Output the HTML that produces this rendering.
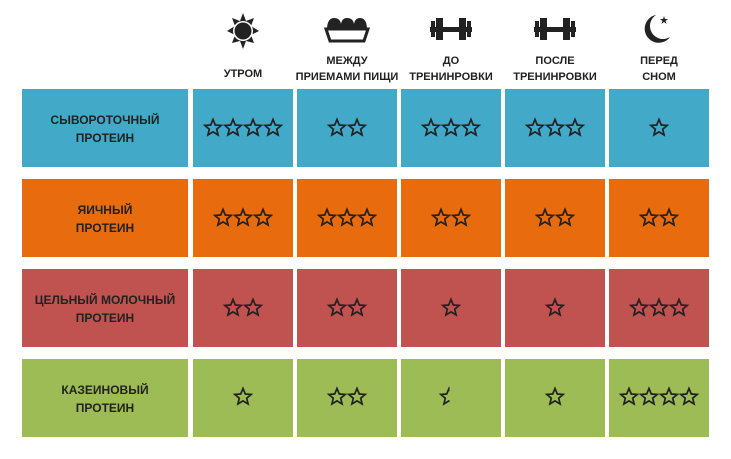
<!DOCTYPE html>
<html><head><meta charset="utf-8"><style>
html,body{margin:0;padding:0;background:#fff;}
svg{display:block}
text{font-family:"Liberation Sans",sans-serif;font-weight:bold;fill:#222;text-anchor:middle;}
</style></head><body>
<svg width="731" height="459" viewBox="0 0 731 459" xmlns="http://www.w3.org/2000/svg">
<defs>
<symbol id="s" viewBox="-10 -10 20 20" overflow="visible">
<polygon points="0,-8.5 2.3,-3 8.2,-2.6 3.7,1.2 5.1,7 0,3.9 -5.1,7 -3.7,1.2 -8.2,-2.6 -2.3,-3" fill="none" stroke="#222" stroke-width="1.7" stroke-linejoin="miter"/>
</symbol>
<clipPath id="half" clipPathUnits="userSpaceOnUse"><rect x="430" y="380" width="19.5" height="40"/></clipPath>
</defs>
<g>
<rect x="22" y="89" width="166" height="78" fill="#42a9c9"/>
<rect x="193" y="89" width="100" height="78" fill="#42a9c9"/>
<rect x="297" y="89" width="100" height="78" fill="#42a9c9"/>
<rect x="401" y="89" width="100" height="78" fill="#42a9c9"/>
<rect x="505" y="89" width="100" height="78" fill="#42a9c9"/>
<rect x="609" y="89" width="100" height="78" fill="#42a9c9"/>

<rect x="22" y="179" width="166" height="78" fill="#e86b0d"/>
<rect x="193" y="179" width="100" height="78" fill="#e86b0d"/>
<rect x="297" y="179" width="100" height="78" fill="#e86b0d"/>
<rect x="401" y="179" width="100" height="78" fill="#e86b0d"/>
<rect x="505" y="179" width="100" height="78" fill="#e86b0d"/>
<rect x="609" y="179" width="100" height="78" fill="#e86b0d"/>

<rect x="22" y="269" width="166" height="78" fill="#c0534f"/>
<rect x="193" y="269" width="100" height="78" fill="#c0534f"/>
<rect x="297" y="269" width="100" height="78" fill="#c0534f"/>
<rect x="401" y="269" width="100" height="78" fill="#c0534f"/>
<rect x="505" y="269" width="100" height="78" fill="#c0534f"/>
<rect x="609" y="269" width="100" height="78" fill="#c0534f"/>

<rect x="22" y="359" width="166" height="78" fill="#9dbc55"/>
<rect x="193" y="359" width="100" height="78" fill="#9dbc55"/>
<rect x="297" y="359" width="100" height="78" fill="#9dbc55"/>
<rect x="401" y="359" width="100" height="78" fill="#9dbc55"/>
<rect x="505" y="359" width="100" height="78" fill="#9dbc55"/>
<rect x="609" y="359" width="100" height="78" fill="#9dbc55"/>
</g>
<g font-size="12">
<text x="105" y="124">СЫВОРОТОЧНЫЙ</text><text x="105" y="142">ПРОТЕИН</text>
<text x="105" y="214">ЯИЧНЫЙ</text><text x="105" y="232">ПРОТЕИН</text>
<text x="105" y="304">ЦЕЛЬНЫЙ МОЛОЧНЫЙ</text><text x="105" y="322">ПРОТЕИН</text>
<text x="105" y="394">КАЗЕИНОВЫЙ</text><text x="105" y="412">ПРОТЕИН</text>
</g>
<g font-size="11">
<text x="243" y="77">УТРОМ</text>
<text x="347" y="64">МЕЖДУ</text><text x="347" y="80">ПРИЕМАМИ ПИЩИ</text>
<text x="451" y="64">ДО</text><text x="451" y="80">ТРЕНИНРОВКИ</text>
<text x="555" y="64">ПОСЛЕ</text><text x="555" y="80">ТРЕНИНРОВКИ</text>
<text x="659" y="64">ПЕРЕД</text><text x="659" y="80">СНОМ</text>
</g>
<g fill="#222">
<polygon points="243,13 246,21 254,18 251,26 259,31 251,35 254,43 246,41 243,49 240,41 232,43 235,35 227,31 235,26 232,18 240,21"/>
<circle cx="243" cy="31" r="10" fill="#fff"/><circle cx="243" cy="31" r="8.5"/>
<path d="M327,30 q0,-12 7,-12 q6,0 7,6 q1,-6 6,-6 q6,0 7,6 q1,-6 6,-6 q7,0 7,12 z"/>
<path d="M326,29 h42 l-4,12 h-34 z" fill="none" stroke="#222" stroke-width="3"/>
<rect x="430" y="27" width="42" height="5"/><rect x="431" y="21" width="4" height="16"/><rect x="436" y="18" width="7" height="22"/><rect x="459" y="18" width="7" height="22"/><rect x="467" y="21" width="4" height="16"/>
<rect x="534" y="27" width="42" height="5"/><rect x="535" y="21" width="4" height="16"/><rect x="540" y="18" width="7" height="22"/><rect x="563" y="18" width="7" height="22"/><rect x="571" y="21" width="4" height="16"/>
<path d="M656,15 a14,14 0 1 0 14,22 a12,12 0 0 1 -14,-22 z"/>
<polygon points="664,16 665,19 668,19 665.5,21 666.5,24 664,22 661.5,24 662.5,21 660,19 663,19"/>
</g>
<g>
<use href="#s" x="203" y="118" width="20" height="20"/><use href="#s" x="223" y="118" width="20" height="20"/><use href="#s" x="243" y="118" width="20" height="20"/><use href="#s" x="263" y="118" width="20" height="20"/>
<use href="#s" x="327" y="118" width="20" height="20"/><use href="#s" x="347" y="118" width="20" height="20"/>
<use href="#s" x="421" y="118" width="20" height="20"/><use href="#s" x="441" y="118" width="20" height="20"/><use href="#s" x="461" y="118" width="20" height="20"/>
<use href="#s" x="525" y="118" width="20" height="20"/><use href="#s" x="545" y="118" width="20" height="20"/><use href="#s" x="565" y="118" width="20" height="20"/>
<use href="#s" x="649" y="118" width="20" height="20"/>

<use href="#s" x="213" y="208" width="20" height="20"/><use href="#s" x="233" y="208" width="20" height="20"/><use href="#s" x="253" y="208" width="20" height="20"/>
<use href="#s" x="317" y="208" width="20" height="20"/><use href="#s" x="337" y="208" width="20" height="20"/><use href="#s" x="357" y="208" width="20" height="20"/>
<use href="#s" x="431" y="208" width="20" height="20"/><use href="#s" x="451" y="208" width="20" height="20"/>
<use href="#s" x="535" y="208" width="20" height="20"/><use href="#s" x="555" y="208" width="20" height="20"/>
<use href="#s" x="639" y="208" width="20" height="20"/><use href="#s" x="659" y="208" width="20" height="20"/>

<use href="#s" x="223" y="298" width="20" height="20"/><use href="#s" x="243" y="298" width="20" height="20"/>
<use href="#s" x="327" y="298" width="20" height="20"/><use href="#s" x="347" y="298" width="20" height="20"/>
<use href="#s" x="441" y="298" width="20" height="20"/>
<use href="#s" x="545" y="298" width="20" height="20"/>
<use href="#s" x="629" y="298" width="20" height="20"/><use href="#s" x="649" y="298" width="20" height="20"/><use href="#s" x="669" y="298" width="20" height="20"/>

<use href="#s" x="233" y="387" width="20" height="20"/>
<use href="#s" x="327" y="387" width="20" height="20"/><use href="#s" x="347" y="387" width="20" height="20"/>
<g clip-path="url(#half)"><use href="#s" x="439" y="387" width="20" height="20"/></g>
<use href="#s" x="545" y="387" width="20" height="20"/>
<use href="#s" x="619" y="387" width="20" height="20"/><use href="#s" x="639" y="387" width="20" height="20"/><use href="#s" x="659" y="387" width="20" height="20"/><use href="#s" x="679" y="387" width="20" height="20"/>
</g>
</svg>
</body></html>
